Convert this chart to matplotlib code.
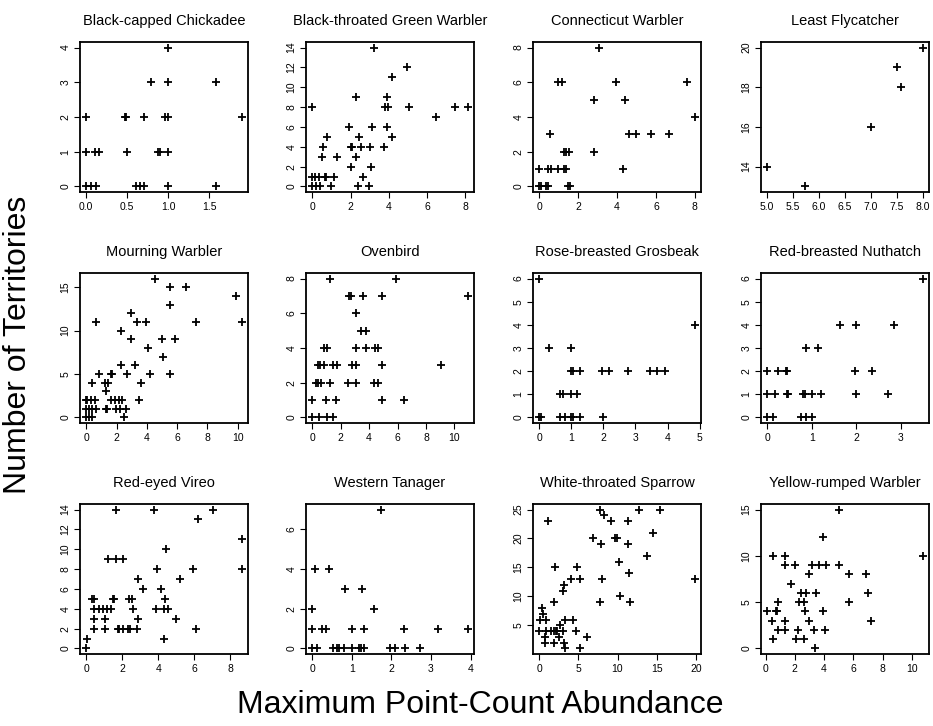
import matplotlib
matplotlib.use("Agg")
import matplotlib.pyplot as plt

plt.rcParams["font.family"] = ["Liberation Sans", "DejaVu Sans"]

W, H = 933, 726

# Maximum point-count abundance (x) vs number of territories (y), one pair per species
chickadee_x = [1.0, 0.79, 1.0, 1.59, 0.0, 0.47, 0.48, 0.7, 0.96, 1.0, 1.9,
               0.0, 0.11, 0.15, 0.5, 0.88, 0.9, 1.0,
               0.0, 0.06, 0.12, 0.61, 0.66, 0.70, 1.0, 1.58]
chickadee_y = [4, 3, 3, 3, 2, 2, 2, 2, 2, 2, 2,
               1, 1, 1, 1, 1, 1, 1,
               0, 0, 0, 0, 0, 0, 0, 0]

btgw_x = [0.0, 0.0, 0.17, 0.35, 0.67, 0.72, 1.14, 0.0, 0.2, 0.4, 0.96, 2.37, 2.98,
          0.5, 0.58, 0.75, 1.3, 1.93, 2.0, 2.07, 2.05, 2.28, 2.28, 2.46, 2.54, 2.67,
          3.04, 3.07, 3.12, 3.25, 3.77, 3.8, 3.95, 3.91, 3.88, 4.16, 4.16, 4.96, 5.04,
          6.44, 7.46, 8.12]
btgw_y = [8, 1, 1, 1, 1, 1, 1, 0, 0, 0, 0, 0, 0,
          3, 4, 5, 3, 6, 4, 4, 2, 3, 9, 5, 4, 1,
          4, 2, 6, 14, 4, 8, 8, 9, 6, 5, 11, 12, 8,
          7, 8, 8]

connecticut_x = [3.08, 0.94, 1.15, 3.94, 7.6, 2.8, 4.43, 8.0, 0.55, 4.62, 4.97, 5.74,
                 6.68, 1.28, 1.37, 1.54, 2.8, 0.0, 0.46, 0.6, 0.98, 1.28, 1.37, 4.32,
                 0.0, 0.07, 0.33, 0.46, 1.49, 1.58]
connecticut_y = [8, 6, 6, 6, 6, 5, 5, 4, 3, 3, 3, 3,
                 3, 2, 2, 2, 2, 1, 1, 1, 1, 1, 1, 1,
                 0, 0, 0, 0, 0, 0]

least_x = [5.0, 5.72, 7.01, 7.5, 7.58, 8.0]
least_y = [14, 13, 16, 19, 18, 20]

mourning_x = [4.52, 5.52, 6.56, 9.9, 5.52, 2.98, 0.62, 3.36, 3.97, 7.24, 10.27, 2.27,
              2.98, 5.01, 5.85, 4.08, 5.08, 2.32, 3.2, 0.82, 1.61, 1.72, 2.72, 4.19,
              5.52, 0.4, 1.26, 1.43, 3.64, 1.28,
              0.0, 0.05, 0.3, 0.55, 1.61, 1.92, 2.14, 2.36, 3.49,
              0.0, 0.18, 0.4, 0.62, 1.28, 1.37, 1.99, 2.25, 2.65,
              0.0, 0.18, 0.4, 2.49]
mourning_y = [16, 15, 15, 14, 13, 12, 11, 11, 11, 11, 11, 10,
              9, 9, 9, 8, 7, 6, 6, 5, 5, 5, 5, 5,
              5, 4, 4, 4, 4, 3,
              2, 2, 2, 2, 2, 2, 2, 2, 2,
              1, 1, 1, 1, 1, 1, 1, 1, 1,
              0, 0, 0, 0]

ovenbird_x = [1.25, 5.9, 2.6, 2.7, 3.6, 4.9, 10.94, 3.06, 3.41, 3.76,
              0.82, 1.06, 3.06, 3.76, 4.38, 4.66,
              0.38, 0.54, 0.85, 1.44, 1.76, 2.78, 3.06, 4.9, 9.08,
              0.3, 0.42, 0.59, 1.25, 2.5, 3.06, 4.35, 4.61,
              0.0, 0.96, 1.67, 4.9, 6.47,
              0.0, 0.49, 1.01, 1.44]
ovenbird_y = [8, 8, 7, 7, 7, 7, 7, 6, 5, 5,
              4, 4, 4, 4, 4, 4,
              3, 3, 3, 3, 3, 3, 3, 3, 3,
              2, 2, 2, 2, 2, 2, 2, 2,
              1, 1, 1, 1, 1,
              0, 0, 0, 0]

grosbeak_x = [0.0, 4.85, 0.31, 1.0,
              1.0, 1.04, 1.26, 1.96, 2.17, 2.77, 3.44, 3.66, 3.91,
              0.66, 0.74, 1.0, 1.18,
              0.0, 0.05, 0.66, 0.81, 1.0, 1.05, 1.28, 1.98]
grosbeak_y = [6, 4, 3, 3,
              2, 2, 2, 2, 2, 2, 2, 2, 2,
              1, 1, 1, 1,
              0, 0, 0, 0, 0, 0, 0, 0]

nuthatch_x = [3.49, 1.64, 2.0, 2.84, 0.86, 1.13,
              0.0, 0.24, 0.43, 0.45, 1.96, 2.34,
              0.0, 0.17, 0.45, 0.47, 0.81, 0.84, 1.0, 1.21, 2.0, 2.72,
              0.0, 0.13, 0.75, 0.88, 1.0]
nuthatch_y = [6, 4, 4, 4, 3, 3,
              2, 2, 2, 2, 2, 2,
              1, 1, 1, 1, 1, 1, 1, 1, 1, 1,
              0, 0, 0, 0, 0]

vireo_x = [1.65, 3.78, 7.04, 6.24, 8.65, 4.43, 1.2, 1.67, 2.04, 3.96, 5.91, 8.65,
           2.87, 5.19, 3.13, 4.15,
           0.31, 0.41, 1.48, 1.57, 2.39, 2.57, 4.39,
           0.41, 0.69, 0.93, 1.15, 1.39, 2.59, 3.87, 4.3, 4.57,
           0.44, 1.02, 2.87, 5.0,
           0.44, 1.02, 1.74, 1.85, 2.02, 2.35, 2.44, 2.85, 6.11,
           0.07, 4.33, 0.0]
vireo_y = [14, 14, 14, 13, 11, 10, 9, 9, 9, 8, 8, 8,
           7, 7, 6, 6,
           5, 5, 5, 5, 5, 5, 5,
           4, 4, 4, 4, 4, 4, 4, 4, 4,
           3, 3, 3, 3,
           2, 2, 2, 2, 2, 2, 2, 2, 2,
           1, 1, 0]

tanager_x = [1.73, 0.07, 0.42, 0.83, 1.27, 1.56, 0.0,
             0.0, 0.24, 0.35, 1.0, 1.32, 2.31, 3.17, 3.93,
             0.0, 0.13, 0.53, 0.62, 0.68, 0.8, 1.0, 1.17, 1.23, 1.31, 1.97, 2.1,
             2.35, 2.73]
tanager_y = [7, 4, 4, 3, 3, 2, 2,
             1, 1, 1, 1, 1, 1, 1, 1,
             0, 0, 0, 0, 0, 0, 0, 0, 0, 0, 0, 0,
             0, 0]

sparrow_x = [7.77, 12.7, 15.45, 8.28, 1.12, 9.23, 11.37, 14.5, 6.91, 9.7, 9.9,
             7.85, 11.37, 13.73, 10.21, 1.97, 4.85, 11.5, 3.22, 4.12, 5.19, 7.98,
             19.87, 3.0, 10.3, 1.85, 7.73, 11.59, 0.34, 0.47, 0.13, 0.86, 3.35,
             4.29, 2.7,
             0.0, 0.9, 1.5, 1.85, 2.15, 2.27, 3.05, 4.72,
             0.77, 2.58, 6.05, 0.77, 1.93, 3.22, 3.26, 5.15]
sparrow_y = [25, 25, 25, 24, 23, 23, 23, 21, 20, 20, 20,
             19, 19, 17, 16, 15, 15, 14, 12, 13, 13, 13,
             13, 11, 10, 9, 9, 9, 8, 7, 6, 6, 6,
             6, 5,
             4, 4, 4, 4, 4, 4, 4, 4,
             3, 3, 3, 2, 2, 2, 1, 1]

yrwa_x = [5.0, 3.93, 0.52, 1.36, 10.75,
          1.32, 2.0, 3.18, 3.68, 4.16, 5.0,
          3.0, 5.68, 6.89, 1.77,
          2.39, 2.77, 3.48, 7.0,
          0.86, 2.27, 2.61, 5.68,
          0.11, 0.68, 0.8, 2.66, 3.93,
          0.45, 1.36, 3.0, 7.2,
          0.86, 1.36, 2.23, 3.3, 4.09,
          0.5, 2.09, 2.61, 3.36]
yrwa_y = [15, 12, 10, 10, 10,
          9, 9, 9, 9, 9, 9,
          8, 8, 8, 7,
          6, 6, 6, 6,
          5, 5, 5, 5,
          4, 4, 4, 4, 4,
          3, 3, 3, 3,
          2, 2, 2, 2, 2,
          1, 1, 1, 0]

species = ["Black-capped Chickadee", "Black-throated Green Warbler",
           "Connecticut Warbler", "Least Flycatcher",
           "Mourning Warbler", "Ovenbird",
           "Rose-breasted Grosbeak", "Red-breasted Nuthatch",
           "Red-eyed Vireo", "Western Tanager",
           "White-throated Sparrow", "Yellow-rumped Warbler"]
xs = [chickadee_x, btgw_x, connecticut_x, least_x, mourning_x, ovenbird_x,
      grosbeak_x, nuthatch_x, vireo_x, tanager_x, sparrow_x, yrwa_x]
ys = [chickadee_y, btgw_y, connecticut_y, least_y, mourning_y, ovenbird_y,
      grosbeak_y, nuthatch_y, vireo_y, tanager_y, sparrow_y, yrwa_y]

x_ticks = [["0.0", "0.5", "1.0", "1.5"], ["0", "2", "4", "6", "8"],
           ["0", "2", "4", "6", "8"], ["5.0", "5.5", "6.0", "6.5", "7.0", "7.5", "8.0"],
           ["0", "2", "4", "6", "8", "10"], ["0", "2", "4", "6", "8", "10"],
           ["0", "1", "2", "3", "4", "5"], ["0", "1", "2", "3"],
           ["0", "2", "4", "6", "8"], ["0", "1", "2", "3", "4"],
           ["0", "5", "10", "15", "20"], ["0", "2", "4", "6", "8", "10"]]
y_ticks = [["0", "1", "2", "3", "4"], ["0", "2", "4", "6", "8", "10", "12", "14"],
           ["0", "2", "4", "6", "8"], ["14", "16", "18", "20"],
           ["0", "5", "10", "15"], ["0", "2", "4", "6", "8"],
           ["0", "1", "2", "3", "4", "5", "6"], ["0", "1", "2", "3", "4", "5", "6"],
           ["0", "2", "4", "6", "8", "10", "12", "14"], ["0", "2", "4", "6"],
           ["5", "10", "15", "20", "25"], ["0", "5", "10", "15"]]

fig = plt.figure(figsize=(W / 100, H / 100), dpi=100)

col_left = [80, 306, 533, 761]
row_top = [42, 273, 504]
box_w, box_h = 168, 150

for i, name in enumerate(species):
    r, c = divmod(i, 4)
    left = col_left[c] / W
    bottom = 1 - (row_top[r] + box_h) / H
    ax = fig.add_axes([left, bottom, box_w / W, box_h / H])
    ax.plot(xs[i], ys[i], linestyle="none", marker="+", color="black",
            markersize=5.5, markeredgewidth=1.3)
    ax.margins(0.04)
    ax.set_xticks([float(t) for t in x_ticks[i]])
    ax.set_xticklabels(x_ticks[i])
    ax.set_yticks([float(t) for t in y_ticks[i]])
    ax.set_yticklabels(y_ticks[i], rotation=90, va="center")
    ax.tick_params(direction="out", length=4, width=0.8, labelsize=7.5, pad=3)
    for s in ax.spines.values():
        s.set_linewidth(1.3)
    ax.set_title(name, fontsize=10.5, pad=12)

fig.text(480 / W, 1 - 705 / H, "Maximum Point-Count Abundance",
         ha="center", va="center", fontsize=23)
fig.text(18 / W, 1 - 345 / H, "Number of Territories", rotation=90,
         ha="center", va="center", fontsize=23)

fig.savefig("out.png", dpi=100)
